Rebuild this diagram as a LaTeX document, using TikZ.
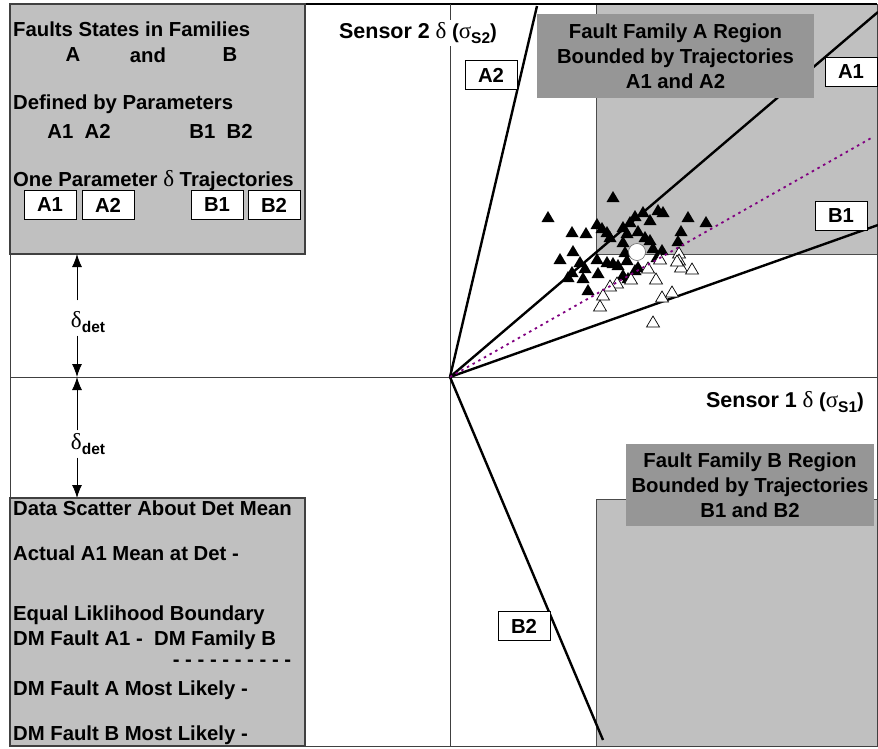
\documentclass[tikz,border=0pt]{standalone}
\usepackage{fontspec}
\setmainfont{Liberation Sans}
\newfontfamily\grk{Liberation Serif}
\usetikzlibrary{arrows.meta}
\definecolor{panel}{HTML}{C0C0C0}
\definecolor{tagfill}{HTML}{969696}
\definecolor{dmline}{HTML}{800080}
\newcommand\lowsub[1]{\raisebox{-0.45ex}{\fontsize{15.5}{15}\selectfont #1}}
\newcommand\gsym[1]{{\fontsize{23}{23}\grk\mdseries #1}}

\begin{document}
\begin{tikzpicture}[x=1pt,y=-1pt,font=\fontsize{20.3}{25}\selectfont\bfseries,
	box/.style={fill=panel,draw=black!75,line width=1.5pt},
	edgeline/.style={draw=black!70,line width=1pt},
	tag/.style={fill=tagfill,align=center,inner sep=0pt},
	lbl/.style={draw,fill=white,line width=0.8pt,minimum width=52pt,minimum height=29pt,inner sep=0pt},
	traj/.style={line width=2.4pt},
	txt/.style={anchor=west,inner sep=0pt},
	axis/.style={line width=0.8pt,black!75},
	dim/.style={-{Latex[length=13pt,width=10pt]},line width=0.9pt}]
\useasboundingbox (0,0) rectangle (878,748);
% fault regions
\fill[panel] (596,4) rectangle (878,254);
\draw[edgeline] (596,4) -- (596,254) -- (878,254);
\fill[panel] (596,499) rectangle (878,746);
\draw[edgeline] (596,746) -- (596,499) -- (878,499);
% frame and axes
\draw[axis] (10,4) rectangle (877,746);
\draw[line width=1.2pt] (10,4) -- (877,4);
\coordinate (o) at (450,377);
\draw[axis] (10,377) -- (878,377);
\draw[axis] (450,4) -- (450,746);
% trajectories
\coordinate (a2end) at (537,6); \coordinate (a1end) at (878,12);
\coordinate (b1end) at (878,225); \coordinate (b2end) at (603,740);
\coordinate (dmend) at (873,137);
\path[traj] (o) edge (a2end) (o) edge (a1end) (o) edge (b1end) (o) edge (b2end);
% data scatter
\foreach \x/\y in {613/197,548/217,572/232,586/233,573/251,560/259,597/224,602/228,607/232,610/237,
	623/227,630/222,635/216,643/212,650/220,658/210,663/212,688/217,706/222,681/231,678/241,638/231,
	627/233,623/242,645/237,650/240,653/248,662/250,657/257,625/252,627/260,638/267,635/270,607/262,
	613/263,618/265,597/259,585/268,580/262,572/272,568/277,583/278,598/273,588/290,623/275,628/278}
	\fill (\x,\y) +(0,-6) -- +(6.5,5) -- +(-6.5,5) -- cycle;
\foreach \x/\y in {679/253,679/260,681/267,692/269,677/261,660/259,648/268,656/279,631/279,617/283,
	610/286,603/295,600/306,662/297,672/292,653/322}
	\filldraw[fill=white,line width=0.7pt] (\x,\y) +(0,-6) -- +(6.5,5) -- +(-6.5,5) -- cycle;
\draw[dmline,line width=1.8pt,dash pattern=on 2.5pt off 4pt] (o) -- (dmend);
\node[circle,fill=white,draw=black!60,line width=0.6pt,minimum size=17pt,inner sep=0pt] (mean) at (637,252) {};
% trajectory labels
\node[lbl] (la2) at (491,75) {A2};
\node[lbl] (la1) at (851,72) {A1};
\node[lbl] (lb1) at (841,216) {B1};
\node[lbl] (lb2) at (524,626) {B2};
% region tags
\node[tag,minimum width=277pt,minimum height=84pt] (taga) at (675.5,56) {Fault Family A Region\\Bounded by Trajectories\\A1 and A2};
\node[tag,minimum width=248pt,minimum height=82pt] (tagb) at (750,485) {Fault Family B Region\\Bounded by Trajectories\\B1 and B2};
% sensor axes labels
\node[fill=white,inner sep=2pt] (s2) at (418,33) {{\fontsize{21.5}{25}\selectfont Sensor 2} \gsym{δ} (\gsym{σ}\lowsub{S2})};
\node[inner sep=0pt] (s1) at (785,402) {{\fontsize{21.5}{25}\selectfont Sensor 1} \gsym{δ} (\gsym{σ}\lowsub{S1})};
% upper left legend
\draw[box] (10,4) rectangle (305,254);
\node[txt] (fs) at (13,29) {Faults States in Families};
\node (fa) at (73,55) {A}; \node (fand) at (148,55) {and}; \node (fb) at (230,55) {B};
\node[txt] (dp) at (13,104) {Defined by Parameters};
\node (pa) at (79,131) {A1\ \ A2}; \node (pb) at (221,131) {B1\ \ B2};
\node[txt] (op) at (13,181) {One Parameter \gsym{δ} Trajectories};
\node[lbl] (ka1) at (50,205) {A1}; \node[lbl] (ka2) at (108,205) {A2};
\node[lbl] (kb1) at (217,205) {B1}; \node[lbl] (kb2) at (274,205) {B2};
% detection thresholds
\coordinate (ub) at (77,254); \coordinate (ax) at (77,377); \coordinate (lt) at (77,498);
\node[inner sep=3pt] (d1) at (88,322) {\gsym{δ}\lowsub{det}};
\node[inner sep=3pt] (d2) at (88,444) {\gsym{δ}\lowsub{det}};
\draw[dim,shorten <=8pt] (d1.north -| ub) -- (ub);
\draw[dim] (d1.south -| ax) -- (ax);
\draw[dim] (d2.north -| ax) -- (ax);
\draw[dim] (d2.south -| lt) -- (lt);
% lower left legend
\draw[box] (10,498) rectangle (305,746);
\node[txt] (ds) at (13,508) {Data Scatter About Det Mean};
\node[txt] (am) at (13,553) {Actual A1 Mean at Det -};
\node[txt] (el) at (13,615) {Equal Liklihood Boundary};
\node[txt] (dmf) at (13,640) {DM Fault A1 -\ \ DM Family B};
\node (dash) at (232,663) {- - - - - - - - - -};
\node[txt] (fal) at (13,690) {DM Fault A Most Likely -};
\node[txt] (fbl) at (13,735) {DM Fault B Most Likely -};
\end{tikzpicture}
\end{document}
